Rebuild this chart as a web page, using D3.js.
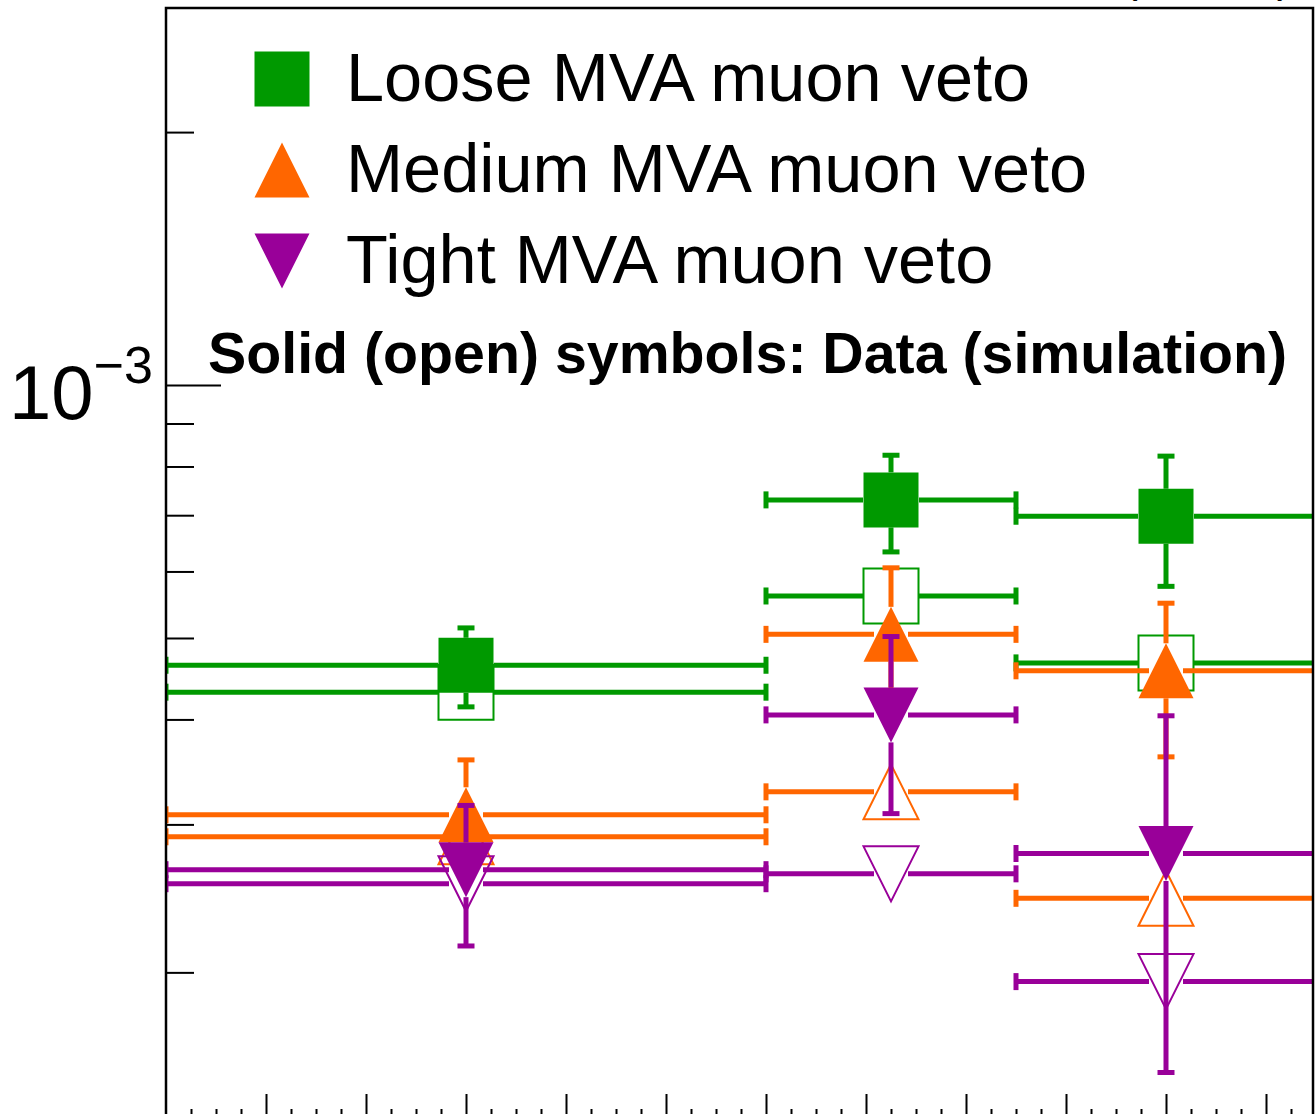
<!DOCTYPE html>
<html>
<head>
<meta charset="utf-8">
<script src="https://cdn.jsdelivr.net/npm/d3@7"></script>
<style>
  body { margin: 0; background: #fff; }
  svg { display: block; font-family: "Liberation Sans", Arial, Helvetica, sans-serif; }
</style>
</head>
<body>
<script>
// bin edges and centres (x axis, arbitrary units)
const binEdges = [0, 6, 8.5, 11.5];
const binCenters = [3, 7.25, 10];

// loose WP
const looseData = [4.64e-4, 7.30e-4, 6.98e-4];
const looseUp   = [5.14e-4, 8.25e-4, 8.23e-4];
const looseDown = [4.14e-4, 6.33e-4, 5.76e-4];
const looseSim  = [4.31e-4, 5.61e-4, 4.67e-4];

// medium WP
const mediumData = [3.08e-4, 5.05e-4, 4.57e-4];
const mediumUp   = [3.58e-4, 6.06e-4, 5.50e-4];
const mediumDown = [2.73e-4, 4.22e-4, 3.61e-4];
const mediumSim  = [2.90e-4, 3.28e-4, 2.45e-4];

// tight WP
const tightData = [2.65e-4, 4.05e-4, 2.77e-4];
const tightUp   = [3.16e-4, 5.02e-4, 4.04e-4];
const tightDown = [2.15e-4, 3.09e-4, 1.52e-4];
const tightSim  = [2.55e-4, 2.62e-4, 1.95e-4];

const yMajorTicks = [1e-3];
const yMinorTicks = [2e-4, 3e-4, 4e-4, 5e-4, 6e-4, 7e-4, 8e-4, 9e-4, 2e-3];

const legendLabels = ["Loose MVA muon veto", "Medium MVA muon veto", "Tight MVA muon veto"];

const width = 1315;
const height = 1114;
const frame = {left: 166, top: 8, right: 1313, bottom: 1124};

const x = d3.scaleLinear()
            .domain([0, 11.47])
            .range([frame.left, frame.right]);

const y = d3.scaleLog()
            .domain([1.32e-4, 2.81e-3])
            .range([frame.bottom, frame.top]);

const series = [
  {color: "#009900", shape: "square", data: looseData, up: looseUp, down: looseDown, sim: looseSim},
  {color: "#ff6600", shape: "up",     data: mediumData, up: mediumUp, down: mediumDown, sim: mediumSim},
  {color: "#990099", shape: "down",   data: tightData, up: tightUp, down: tightDown, sim: tightSim}
];

const half = 27.5; // marker half size

function markerPath(shape) {
  const p = d3.path();
  if (shape === "square") {
    p.rect(-half, -half, 2 * half, 2 * half);
  } else if (shape === "up") {
    p.moveTo(0, -half); p.lineTo(half, half); p.lineTo(-half, half); p.closePath();
  } else {
    p.moveTo(0, half); p.lineTo(half, -half); p.lineTo(-half, -half); p.closePath();
  }
  return p.toString();
}

const svg = d3.select("body")
              .append("svg")
              .attr("width", width)
              .attr("height", height);

svg.append("rect").attr("width", width).attr("height", height).attr("fill", "#fff");

svg.append("clipPath").attr("id", "frameclip")
   .append("rect")
   .attr("x", frame.left).attr("y", frame.top)
   .attr("width", frame.right - frame.left).attr("height", frame.bottom - frame.top);

// text above the frame (cut off at the top, as in the original)
svg.append("text")
   .attr("x", 1292).attr("y", -8)
   .attr("text-anchor", "end")
   .attr("font-size", 45)
   .text("(13 TeV)");

// y axis ticks (inside the frame)
svg.append("g")
   .attr("transform", `translate(${frame.left},0)`)
   .call(d3.axisRight(y).tickValues(yMajorTicks).tickSize(55).tickFormat(""))
   .call(g => g.select(".domain").remove())
   .call(g => g.selectAll("line").attr("stroke", "#000").attr("stroke-width", 2));

svg.append("g")
   .attr("transform", `translate(${frame.left},0)`)
   .call(d3.axisRight(y).tickValues(yMinorTicks).tickSize(28).tickFormat(""))
   .call(g => g.select(".domain").remove())
   .call(g => g.selectAll("line").attr("stroke", "#000").attr("stroke-width", 2));

// x axis ticks
const xMajor = d3.range(1, 12, 1);
const xMinor = d3.range(0.25, 11.47, 0.25).filter(v => Math.abs(v - Math.round(v)) > 1e-6);

svg.append("g")
   .attr("transform", `translate(0,${frame.bottom})`)
   .call(d3.axisTop(x).tickValues(xMajor).tickSize(30).tickFormat(""))
   .call(g => g.select(".domain").remove())
   .call(g => g.selectAll("line").attr("stroke", "#000").attr("stroke-width", 2));

svg.append("g")
   .attr("transform", `translate(0,${frame.bottom})`)
   .call(d3.axisTop(x).tickValues(xMinor).tickSize(15).tickFormat(""))
   .call(g => g.select(".domain").remove())
   .call(g => g.selectAll("line").attr("stroke", "#000").attr("stroke-width", 2));

// 10^-3 label
const lab = svg.append("text")
   .attr("x", 9).attr("y", y(1e-3) + 34)
   .attr("font-size", 76);
lab.append("tspan").text("10");
lab.append("tspan").attr("font-size", 52).attr("dy", -36).text("\u22123");

const plot = svg.append("g").attr("clip-path", "url(#frameclip)");

function drawPoints(s, values, isData) {
  const g = plot.append("g");
  const gapX = s.shape === "square" ? 28 : 17;
  values.forEach((v, i) => {
    const cx = x(binCenters[i]);
    const cy = y(v);
    const x0 = x(binEdges[i]);
    const x1 = x(binEdges[i + 1]);
    const lw = 5;
    // horizontal bar
    g.append("line").attr("x1", x0).attr("x2", cx - gapX).attr("y1", cy).attr("y2", cy)
     .attr("stroke", s.color).attr("stroke-width", lw);
    g.append("line").attr("x1", cx + gapX).attr("x2", x1).attr("y1", cy).attr("y2", cy)
     .attr("stroke", s.color).attr("stroke-width", lw);
    [x0, x1].forEach(xe => {
      g.append("line").attr("x1", xe).attr("x2", xe).attr("y1", cy - 8.5).attr("y2", cy + 8.5)
       .attr("stroke", s.color).attr("stroke-width", lw);
    });
    if (isData) {
      const yu = y(s.up[i]);
      const yd = y(s.down[i]);
      if (yu < cy - half) {
        g.append("line").attr("x1", cx).attr("x2", cx).attr("y1", yu).attr("y2", cy - half)
         .attr("stroke", s.color).attr("stroke-width", lw);
      }
      if (yd > cy + half) {
        g.append("line").attr("x1", cx).attr("x2", cx).attr("y1", cy + half).attr("y2", yd)
         .attr("stroke", s.color).attr("stroke-width", lw);
      }
      [yu, yd].forEach(ye => {
        g.append("line").attr("x1", cx - 8.5).attr("x2", cx + 8.5).attr("y1", ye).attr("y2", ye)
         .attr("stroke", s.color).attr("stroke-width", lw);
      });
    }
    g.append("path")
     .attr("d", markerPath(s.shape))
     .attr("transform", `translate(${cx},${cy})`)
     .attr("fill", isData ? s.color : "none")
     .attr("stroke", s.color)
     .attr("stroke-width", isData ? 0 : 2);
  });
}

series.forEach(s => {
  drawPoints(s, s.sim, false);
  drawPoints(s, s.data, true);
});

// frame
svg.append("rect")
   .attr("x", frame.left).attr("y", frame.top)
   .attr("width", frame.right - frame.left).attr("height", frame.bottom - frame.top)
   .attr("fill", "none").attr("stroke", "#000").attr("stroke-width", 2.5);

// legend
const legendY = [79, 170, 261];
series.forEach((s, i) => {
  svg.append("path")
     .attr("d", markerPath(s.shape))
     .attr("transform", `translate(282,${legendY[i]})`)
     .attr("fill", s.color);
  svg.append("text")
     .attr("x", 346).attr("y", legendY[i] + 22)
     .attr("font-size", 68.5)
     .text(legendLabels[i]);
});

svg.append("text")
   .attr("x", 208).attr("y", 373)
   .attr("font-size", 57.3)
   .attr("font-weight", "bold")
   .text("Solid (open) symbols: Data (simulation)");
</script>
</body>
</html>
